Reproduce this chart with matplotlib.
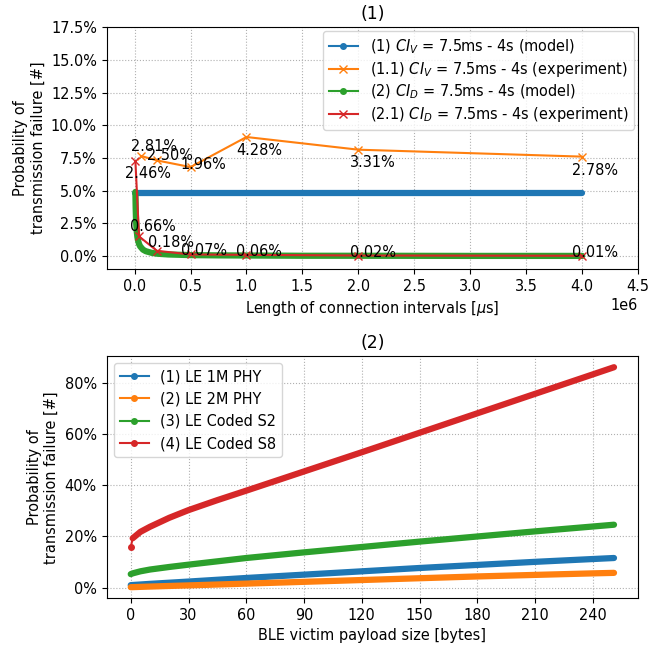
import matplotlib
matplotlib.use('Agg')
import matplotlib.pyplot as plt
from matplotlib.lines import Line2D
from matplotlib.ticker import PercentFormatter, MultipleLocator

plt.rcParams['font.size'] = 10.45
plt.rcParams['axes.titlesize'] = 12.5

# (1) connection interval sweep, x in microseconds
ci_v_model = [7500, 500000, 1000000, 2000000, 3000000, 4000000]
model_v = [0.0482, 0.0482, 0.0482, 0.0482, 0.0482, 0.0482]

ci_d_model = [7500, 10000, 12500, 15000, 20000, 25000, 30000, 40000, 50000, 75000,
              100000, 150000, 200000, 300000, 500000, 750000, 1000000, 1500000,
              2000000, 3000000, 4000000]
model_d = [0.0490, 0.0368, 0.0294, 0.0245, 0.0184, 0.0147, 0.0123, 0.0092, 0.0074, 0.0049,
           0.0037, 0.0025, 0.0018, 0.0012, 0.0007, 0.0005, 0.0004, 0.0002,
           0.0002, 0.0001, 0.0001]

ci_v_exp = [57000, 200000, 500000, 1000000, 2000000, 4000000]
exp_v = [0.0765, 0.0731, 0.0680, 0.0910, 0.0813, 0.0760]
exp_v_labels = ['2.81%', '2.50%', '1.96%', '4.28%', '3.31%', '2.78%']

ci_d_exp = [7500, 40000, 200000, 500000, 1000000, 2000000, 4000000]
exp_d = [0.0727, 0.0150, 0.0040, 0.0012, 0.0009, 0.0004, 0.0002]
exp_d_labels = ['2.46%', '0.66%', '0.18%', '0.07%', '0.06%', '0.02%', '0.01%']

# (2) payload size sweep
payload = [0, 1, 5, 10, 20, 30, 45, 60, 90, 120, 150, 180, 210, 240, 251]
le_1m = [0.010, 0.0105, 0.0125, 0.015, 0.0195, 0.024, 0.031, 0.038, 0.051, 0.064,
         0.077, 0.089, 0.101, 0.112, 0.116]
le_2m = [0.002, 0.0022, 0.0033, 0.0045, 0.0068, 0.009, 0.0125, 0.016, 0.023, 0.030,
         0.037, 0.044, 0.050, 0.056, 0.058]
coded_s2 = [0.053, 0.056, 0.064, 0.071, 0.081, 0.090, 0.103, 0.116, 0.138, 0.159,
            0.180, 0.200, 0.220, 0.239, 0.246]
coded_s8 = [0.158, 0.193, 0.218, 0.238, 0.273, 0.303, 0.342, 0.379, 0.454, 0.529,
            0.605, 0.681, 0.757, 0.833, 0.861]

# label offsets in pixels (dx, dy)
v_offsets = [(-10, 5), (-10, 0), (-10, -2), (-10, -18), (-8, -17), (-10, -18)]
d_offsets = [(-10, -17), (-9, 5), (-9, 4), (-10, -1), (-10, -1), (-8, -1), (-10, -1)]

# the model curves are dense runs of markers -> drawn as a thick round band
band = dict(lw=4.5, solid_capstyle='round', solid_joinstyle='round')


def model_handle(color, label):
    return Line2D([], [], color=color, marker='o', ms=4, lw=1.5, label=label)


fig, (ax1, ax2) = plt.subplots(2, 1, figsize=(6.62, 6.46), dpi=100)
fig.subplots_adjust(left=0.161, right=0.964, top=0.958, bottom=0.074, hspace=0.36)

# ---- plot (1)
ax1.plot(ci_v_model, model_v, color='C0', **band)
h_v_exp, = ax1.plot(ci_v_exp, exp_v, color='C1', marker='x', lw=1.5,
                    label='(1.1) $CI_V$ = 7.5ms - 4s (experiment)')
ax1.plot(ci_d_model, model_d, color='C2', **band)
h_d_exp, = ax1.plot(ci_d_exp, exp_d, color='C3', marker='x', lw=1.5,
                    label='(2.1) $CI_D$ = 7.5ms - 4s (experiment)')

for x, y, txt, off in zip(ci_v_exp, exp_v, exp_v_labels, v_offsets):
    ax1.annotate(txt, (x, y), xytext=off, textcoords='offset pixels',
                 ha='left', va='baseline')
for x, y, txt, off in zip(ci_d_exp, exp_d, exp_d_labels, d_offsets):
    ax1.annotate(txt, (x, y), xytext=off, textcoords='offset pixels',
                 ha='left', va='baseline')

ax1.set_xlim(-250000, 4500000)
ax1.set_ylim(-0.01, 0.175)
ax1.xaxis.set_major_locator(MultipleLocator(500000))
ax1.yaxis.set_major_locator(MultipleLocator(0.025))
ax1.yaxis.set_major_formatter(PercentFormatter(1.0, decimals=1))
ax1.set_xlabel('Length of connection intervals [$\\mu$s]')
ax1.set_ylabel('Probability of\ntransmission failure [#]')
ax1.set_title('(1)')
ax1.grid(linestyle=':')
handles1 = [model_handle('C0', '(1) $CI_V$ = 7.5ms - 4s (model)'), h_v_exp,
            model_handle('C2', '(2) $CI_D$ = 7.5ms - 4s (model)'), h_d_exp]
ax1.legend(handles=handles1, loc='upper right', labelspacing=0.27,
           borderaxespad=0.3)

# ---- plot (2)
series = [(le_1m, 'C0', '(1) LE 1M PHY'),
          (le_2m, 'C1', '(2) LE 2M PHY'),
          (coded_s2, 'C2', '(3) LE Coded S2'),
          (coded_s8, 'C3', '(4) LE Coded S8')]
handles2 = []
for vals, col, lab in series:
    if col == 'C3':
        # first point sits apart from the rest of the curve
        ax2.plot(payload[:2], vals[:2], color=col, marker='o', ms=4, lw=1.5,
                 markevery=[0])
        ax2.plot(payload[1:], vals[1:], color=col, **band)
    else:
        ax2.plot(payload, vals, color=col, **band)
    handles2.append(model_handle(col, lab))

ax2.xaxis.set_major_locator(MultipleLocator(30))
ax2.yaxis.set_major_locator(MultipleLocator(0.2))
ax2.yaxis.set_major_formatter(PercentFormatter(1.0, decimals=0))
ax2.set_xlabel('BLE victim payload size [bytes]')
ax2.set_ylabel('Probability of\ntransmission failure [#]')
ax2.set_title('(2)')
ax2.grid(linestyle=':')
ax2.legend(handles=handles2, loc='upper left')

plt.savefig('out.png', dpi=100)
plt.close()
